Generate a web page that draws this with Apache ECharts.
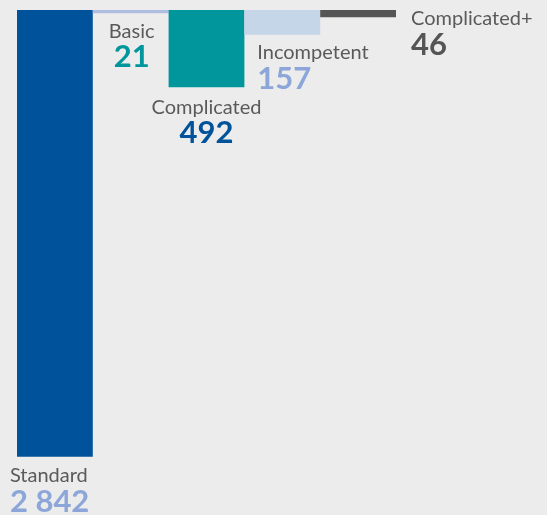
<!DOCTYPE html>
<html>
<head>
<meta charset="utf-8">
<script src="https://cdn.jsdelivr.net/npm/echarts@6/dist/echarts.min.js"></script>
<style>
  html, body { margin: 0; padding: 0; background: #ececec; }
  #chart { width: 547px; height: 515px; }
</style>
</head>
<body>
<div id="chart"></div>
<script>
// Case categories and counts
const categories = ['Standard', 'Basic', 'Complicated', 'Incompetent', 'Complicated+'];
const counts = [2842, 21, 492, 157, 46];

// Bar fill and value text colours, one per category
const barColors = ['#00539b', '#aebde0', '#00969b', '#c6d6e9', '#555555'];
const valueColors = ['#8ca6d9', '#00969b', '#00539b', '#8ca6d9', '#555555'];

const labelFont = 'Lato, "Noto Sans", sans-serif';

// Space as thousands separator: 2842 -> "2 842"
function fmt(v) {
  return String(v).replace(/\B(?=(\d{3})+(?!\d))/g, ' ');
}

// Label placement per category
const labelPlacement = [
  { position: 'bottom', align: 'left', offset: [-45, 1], distance: 6 },
  { position: 'bottom', align: 'center', offset: [1, 0], distance: 6 },
  { position: 'bottom', align: 'center', offset: [0, 2], distance: 6 },
  { position: 'bottom', align: 'left', offset: [-25, 1], distance: 5 },
  { position: 'right', align: 'left', verticalAlign: 'top', offset: [10, -7] }
];

const seriesData = counts.map((v, i) => ({
  value: v,
  itemStyle: { color: barColors[i] },
  label: Object.assign({
    show: true,
    formatter: () => '{n|' + categories[i] + '}\n{v' + i + '|' + fmt(v) + '}'
  }, labelPlacement[i])
}));

const rich = {
  n: { fontFamily: labelFont, fontSize: 20, color: '#5a5a5a', lineHeight: 24 }
};
valueColors.forEach((c, i) => {
  rich['v' + i] = { fontFamily: labelFont, fontSize: 31, fontWeight: 'bold', color: c, lineHeight: 28 };
});

const chart = echarts.init(document.getElementById('chart'));
chart.setOption({
  backgroundColor: '#ececec',
  animation: false,
  grid: { left: 17, width: 379, top: 10, height: 447 },
  xAxis: {
    type: 'category',
    data: categories,
    show: false
  },
  yAxis: {
    type: 'value',
    inverse: true,
    min: 0,
    max: 2844,
    show: false
  },
  series: [{
    type: 'bar',
    data: seriesData,
    barWidth: '100%',
    label: { rich: rich }
  }]
});
</script>
</body>
</html>
